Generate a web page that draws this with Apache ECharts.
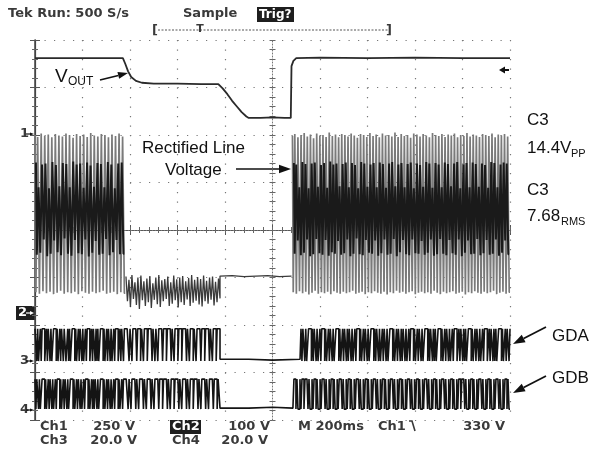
<!DOCTYPE html>
<html>
<head>
<meta charset="utf-8">
<script src="https://cdn.jsdelivr.net/npm/echarts@6/dist/echarts.min.js"></script>
<style>
  html, body { margin: 0; background: #fff; }
  #chart { width: 592px; height: 450px; }
</style>
</head>
<body>
<div id="chart"></div>
<script>
// time in ms across 10 divisions (200 ms/div), vertical in divisions (-4..4)

// V_OUT trace
const voutTime = [0, 370, 380, 392, 405, 425, 450, 500, 600, 700, 772, 790, 810, 830, 850, 870, 890, 900, 950, 1000, 1050, 1077, 1080, 1088, 1100, 1200, 1400, 1600, 1800, 2000];
const voutDiv  = [3.62, 3.62, 3.5, 3.34, 3.22, 3.14, 3.1, 3.08, 3.08, 3.07, 3.07, 2.98, 2.86, 2.72, 2.6, 2.48, 2.39, 2.36, 2.36, 2.37, 2.36, 2.36, 3.45, 3.56, 3.62, 3.63, 3.62, 3.63, 3.62, 3.62];

// rectified line voltage, peaks of each stroke
const rectLeftTops = [2.0, 1.96, 2.03, 1.98, 2.01, 1.95, 2.02, 1.99, 1.97, 2.03, 2.0, 1.94, 2.02, 1.98, 2.01, 1.96, 2.04, 1.99, 1.97, 2.02, 2.0, 1.95, 2.01, 1.98, 2.03, 1.97];
const rectLeftBots = [-1.31, -1.34, -1.29, -1.33, -1.3, -1.35, -1.32, -1.28, -1.34, -1.31, -1.33, -1.3, -1.35, -1.29, -1.32, -1.34, -1.3, -1.33, -1.31, -1.28, -1.34, -1.32, -1.3, -1.35, -1.31, -1.33];
const rectLeftDarkTops = [1.42, 0.9, 1.38, 1.4, 0.88, 1.43, 1.37, 0.92, 1.41, 1.39, 0.9, 1.44, 1.38, 1.4, 0.89, 1.42, 1.36, 0.91, 1.41, 1.39, 0.9, 1.43, 1.38, 0.88, 1.4, 1.42];
const rectLeftDarkBots = [-0.52, -0.48, -0.2, -0.55, -0.5, -0.22, -0.47, -0.53, -0.18, -0.5, -0.54, -0.21, -0.49, -0.51, -0.2, -0.56, -0.48, -0.23, -0.52, -0.5, -0.19, -0.53, -0.47, -0.21, -0.51, -0.5];
const rectMidTops = [-0.98, -1.05, -0.95, -1.1, -1.0, -0.96, -1.08, -1.02, -0.97, -1.12, -1.0, -0.95, -1.06, -1.03, -0.98, -1.1, -0.96, -1.04, -1.0, -0.97, -1.08, -1.01, -0.95, -1.05, -0.99, -1.03, -0.96, -1.07, -1.0, -0.98, -1.09, -1.02];
const rectMidBots = [-1.5, -1.62, -1.45, -1.58, -1.66, -1.48, -1.6, -1.52, -1.64, -1.47, -1.56, -1.62, -1.5, -1.45, -1.6, -1.55, -1.48, -1.63, -1.52, -1.58, -1.46, -1.6, -1.53, -1.49, -1.57, -1.61, -1.5, -1.55, -1.47, -1.59, -1.52, -1.44];
const rectFlatTime = [779, 830, 880, 930, 980, 1030, 1080];
const rectFlatDiv  = [-0.97, -0.96, -0.98, -0.97, -0.96, -0.98, -0.97];
const rectRightTops = [1.98, 2.02, 1.95, 2.0, 2.04, 1.97, 2.01, 1.93, 2.03, 1.99, 2.0, 1.96, 2.05, 1.98, 2.01, 1.95, 2.02, 2.0, 1.97, 2.03, 1.99, 1.94, 2.02, 2.0, 1.96, 2.04, 1.98, 2.01, 1.95, 2.03, 1.99, 2.0, 1.97, 2.05, 1.96, 2.02, 1.98, 2.0, 1.94, 2.03, 2.01, 1.97, 2.02, 1.99, 1.95, 2.04, 2.0, 1.98, 2.02, 1.96, 2.01, 1.99, 2.03, 1.95, 2.0, 1.98, 2.04, 1.97, 2.01, 1.99, 1.96, 2.02, 2.0, 1.98, 2.03, 1.95, 2.01, 1.99, 2.02, 1.97];
const rectRightBots = [-1.31, -1.34, -1.29, -1.33, -1.3, -1.36, -1.32, -1.28, -1.34, -1.31, -1.33, -1.3, -1.35, -1.29, -1.32, -1.34, -1.3, -1.33, -1.31, -1.28, -1.34, -1.32, -1.3, -1.35, -1.31, -1.33, -1.29, -1.32, -1.34, -1.3, -1.36, -1.31, -1.33, -1.28, -1.32, -1.3, -1.34, -1.31, -1.29, -1.35, -1.32, -1.3, -1.33, -1.31, -1.34, -1.28, -1.32, -1.35, -1.3, -1.33, -1.31, -1.29, -1.34, -1.32, -1.3, -1.36, -1.31, -1.33, -1.29, -1.32, -1.34, -1.3, -1.33, -1.31, -1.28, -1.35, -1.32, -1.3, -1.34, -1.31];
const rectRightDarkTops = [1.41, 1.38, 0.9, 1.43, 1.39, 0.88, 1.4, 1.42, 0.91, 1.37, 1.41, 0.89, 1.44, 1.38, 1.4, 0.92, 1.39, 1.42, 0.9, 1.41, 1.37, 0.88, 1.43, 1.4, 0.91, 1.38, 1.41, 0.9, 1.42, 1.39, 0.89, 1.4, 1.43, 0.92, 1.38, 1.41, 0.9, 1.39, 1.42, 0.88, 1.4, 1.37, 0.91, 1.43, 1.4, 0.89, 1.41, 1.38, 0.9, 1.42, 1.39, 0.92, 1.4, 1.43, 0.88, 1.38, 1.41, 0.9, 1.42, 1.39, 0.91, 1.4, 1.37, 0.89, 1.43, 1.41, 0.9, 1.38, 1.42, 1.4];
const rectRightDarkBots = [-0.5, -0.22, -0.53, -0.48, -0.2, -0.55, -0.51, -0.19, -0.49, -0.52, -0.21, -0.54, -0.47, -0.5, -0.23, -0.52, -0.49, -0.2, -0.55, -0.5, -0.18, -0.51, -0.53, -0.21, -0.48, -0.5, -0.22, -0.54, -0.49, -0.2, -0.52, -0.5, -0.19, -0.55, -0.47, -0.21, -0.51, -0.53, -0.2, -0.49, -0.5, -0.23, -0.52, -0.48, -0.2, -0.54, -0.51, -0.19, -0.5, -0.53, -0.21, -0.49, -0.52, -0.2, -0.55, -0.48, -0.22, -0.51, -0.5, -0.19, -0.53, -0.49, -0.21, -0.52, -0.5, -0.2, -0.54, -0.48, -0.22, -0.51];

// gate drive logic states (1 = high)
const gdaLeft  = '110100101110010110100111010010110110010100111010010110100101110010110101001110100101101001011100101101';
const gdaMid   = '111101101111011101101110111101101101111011101111011011101110111101101110110111101110111101101110111';
const gdaRight = '010110100111010110100101110100101101001110100101101011010010111010010110100111010110100101101001110100101101011010010111010010110100111010110101001110100101101001011100101101010011101001011010010111001011010100111010010110';
const gdbLeft  = '101101001110100101101001011101001011010011101001011010010111010010101101001110100101101001011101001011';
const gdbMid   = '111011011110110111101101111011011110111011110110111011110110111101101110111101101111011011110111011';
const gdbRight = '011010010110111010010110100101110100101101001011101001011010010111010010110100101110100101101001011101001011010010111010010110100101110100101101001011101001011010010110111010010110100101110100101101001011101001011010';
const gdaLevels = { hi: -2.08, lo: -2.76, idle: -2.72 };
const gdbLevels = { hi: -3.14, lo: -3.77, idle: -3.75 };

function strokes(tops, bots, t0, t1) {
  const n = Math.min(tops.length, bots.length);
  const dt = (t1 - t0) / (2 * n - 1);
  const out = [];
  for (let i = 0; i < n; i++) {
    out.push([t0 + 2 * i * dt, tops[i]]);
    out.push([t0 + (2 * i + 1) * dt, bots[i]]);
  }
  return out;
}
function logic(bits, t0, t1, lv) {
  const dt = (t1 - t0) / bits.length;
  return bits.split('').map((b, i) => [t0 + i * dt, b === '1' ? lv.hi : lv.lo]);
}

const voutData = voutTime.map((t, i) => [t, voutDiv[i]]);
const rectMidData = [].concat(
  strokes(rectMidTops, rectMidBots, 383, 779),
  rectFlatTime.map((t, i) => [t, rectFlatDiv[i]])
);
const gdaData = [].concat(
  logic(gdaLeft, 0, 380, gdaLevels), logic(gdaMid, 380, 779, gdaLevels),
  [[779, gdaLevels.idle], [900, gdaLevels.idle - 0.02], [1000, gdaLevels.idle], [1116, gdaLevels.idle]],
  logic(gdaRight, 1116, 2000, gdaLevels), [[2000, gdaLevels.hi]]
);
const gdbData = [].concat(
  logic(gdbLeft, 0, 380, gdbLevels), logic(gdbMid, 380, 779, gdbLevels),
  [[779, gdbLevels.idle], [900, gdbLevels.idle + 0.02], [1000, gdbLevels.idle], [1086, gdbLevels.idle]],
  logic(gdbRight, 1086, 2000, gdbLevels), [[2000, gdbLevels.lo]]
);

const chart = echarts.init(document.getElementById('chart'), null, { renderer: 'canvas' });

const frameTick = { show: true, inside: true, length: 5, lineStyle: { color: '#555', width: 1 } };
const frameMinor = { show: true, splitNumber: 5, length: 3, lineStyle: { color: '#666', width: 1 } };
const gridDots = { show: true, lineStyle: { color: '#777', width: 1.2, type: [1.2, 8.3] } };
const base = { axisLabel: { show: false }, splitLine: { show: false } };

function xAx(extra) { return Object.assign({ type: 'value', min: 0, max: 2000, interval: 200, gridIndex: 0 }, base, extra); }
function yAx(extra) { return Object.assign({ type: 'value', min: -4, max: 4, interval: 1, gridIndex: 0 }, base, extra); }

const font = 'bold 13px "DejaVu Sans"';
const scopeInk = '#3a3a3a';
const annFont = '17px "Liberation Sans"';
const subFont = '11px "Liberation Sans"';
const g = [];
function txt(x, y, text, f, fill, align) {
  g.push({ type: 'text', x: x, y: y, silent: true, style: { text: text, font: f || font, fill: fill || scopeInk, textAlign: align || 'left', textVerticalAlign: 'middle', align: align || 'left', verticalAlign: 'middle' } });
}
function arrow(x1, y1, x2, y2, w, head, spread) {
  const a = Math.atan2(y2 - y1, x2 - x1), L = head || 10, W = L * (spread || 0.35);
  const bx = x2 - L * Math.cos(a), by = y2 - L * Math.sin(a);
  g.push({ type: 'line', silent: true, shape: { x1: x1, y1: y1, x2: bx, y2: by }, style: { stroke: '#111', lineWidth: w || 1.5 } });
  g.push({ type: 'polygon', silent: true, shape: { points: [[x2, y2], [bx - W * Math.sin(a), by + W * Math.cos(a)], [bx + W * Math.sin(a), by - W * Math.cos(a)]] }, style: { fill: '#111' } });
}
function box(x, y, w, h) {
  g.push({ type: 'rect', silent: true, shape: { x: x, y: y, width: w, height: h }, style: { fill: '#1e1e1e' } });
}

// header
txt(8, 14, 'Tek Run: 500 S/s');
txt(183, 14, 'Sample');
box(257, 7, 37, 15);
txt(259, 14.5, 'Trig?', 'bold 12px "DejaVu Sans"', '#fff');
txt(152, 31, '[', 'bold 13px "DejaVu Sans"');
txt(392, 31, ']', 'bold 13px "DejaVu Sans"', scopeInk, 'right');
g.push({ type: 'line', silent: true, shape: { x1: 158, y1: 30, x2: 389, y2: 30 }, style: { stroke: '#555', lineWidth: 1, lineDash: [2, 1.5] } });
txt(200, 29, 'T', 'bold 11px "DejaVu Sans"', scopeInk, 'center');

// channel markers
txt(20, 134, '1', font);
arrow(26, 134, 34, 134, 1.2, 4);
box(16, 306, 19, 14);
txt(18, 313, '2', font, '#fff');
g.push({ type: 'line', silent: true, shape: { x1: 26, y1: 313, x2: 30, y2: 313 }, style: { stroke: '#fff', lineWidth: 1.2 } });
g.push({ type: 'polygon', silent: true, shape: { points: [[34, 313], [30, 311], [30, 315]] }, style: { fill: '#fff' } });
txt(20, 361, '3', font);
arrow(26, 361, 34, 361, 1.2, 4);
txt(20, 410, '4', font);
arrow(26, 410, 34, 410, 1.2, 4);
arrow(509, 70, 499, 70, 2, 6, 0.6);

// right-hand readouts
txt(527, 120, 'C3', annFont, '#111');
txt(527, 148, '14.4V', annFont, '#111');
txt(571, 154, 'PP', subFont, '#111');
txt(527, 190, 'C3', annFont, '#111');
txt(527, 216, '7.68', annFont, '#111');
txt(561, 222, 'RMS', subFont, '#111');
txt(552, 336, 'GDA', annFont, '#111');
txt(552, 378, 'GDB', annFont, '#111');
arrow(546, 327, 513, 344, 1.8, 12);
arrow(546, 376, 513, 393, 1.8, 12);

// annotations
txt(55, 77, 'V', '19px "Liberation Sans"', '#111');
txt(68, 82, 'OUT', '12px "Liberation Sans"', '#111');
arrow(100, 80, 128, 73, 1.5, 10);
txt(142, 148, 'Rectified Line', annFont, '#111');
txt(165, 170, 'Voltage', annFont, '#111');
arrow(236, 169, 291, 169, 1.5, 12);

// footer
txt(40, 427, 'Ch1');
txt(135, 427, '250 V', font, scopeInk, 'right');
box(170, 420, 31, 14);
txt(172, 427, 'Ch2', font, '#fff');
txt(270, 427, '100 V', font, scopeInk, 'right');
txt(298, 427, 'M 200ms');
txt(378, 427, 'Ch1');
g.push({ type: 'polyline', silent: true, shape: { points: [[409, 421], [412, 421], [415, 431]] }, style: { stroke: scopeInk, lineWidth: 1.6, fill: null } });
txt(505, 427, '330 V', font, scopeInk, 'right');
txt(40, 441, 'Ch3');
txt(137, 441, '20.0 V', font, scopeInk, 'right');
txt(172, 441, 'Ch4');
txt(268, 441, '20.0 V', font, scopeInk, 'right');

function trace(data, color, width, step) {
  return { type: 'line', data: data, showSymbol: false, symbol: 'none', silent: true, step: step || false,
    lineStyle: { color: color, width: width }, xAxisIndex: 0, yAxisIndex: 0 };
}

chart.setOption({
  animation: false,
  backgroundColor: '#fff',
  grid: { left: 35, right: 82, top: 40, bottom: 30 },
  xAxis: [
    xAx({ position: 'bottom', axisLine: { show: true, lineStyle: { color: '#444', width: 1.2 } }, axisTick: frameTick, minorTick: frameMinor, splitLine: gridDots }),
    xAx({ position: 'top', axisLine: { show: true, lineStyle: { color: '#444', width: 1.2 } }, axisTick: frameTick, minorTick: frameMinor }),
    xAx({ position: 'bottom', offset: -190, axisLine: { show: true, lineStyle: { color: '#777', width: 1, type: [1, 2] } }, axisTick: { show: true, inside: true, length: 3, lineStyle: { color: '#666' } }, minorTick: { show: true, splitNumber: 5, length: 3, lineStyle: { color: '#666' } } }),
    xAx({ position: 'bottom', offset: -190, axisLine: { show: false }, axisTick: { show: true, inside: false, length: 3, lineStyle: { color: '#666' } }, minorTick: { show: true, splitNumber: 5, length: 3, lineStyle: { color: '#666' } } })
  ],
  yAxis: [
    yAx({ position: 'left', axisLine: { show: true, lineStyle: { color: '#444', width: 1.2 } }, axisTick: frameTick, minorTick: frameMinor, splitLine: gridDots }),
    yAx({ position: 'right', axisLine: { show: true, lineStyle: { color: '#444', width: 1.5 } }, axisTick: frameTick, minorTick: frameMinor }),
    yAx({ position: 'left', offset: -237.5, axisLine: { show: true, lineStyle: { color: '#777', width: 1, type: [1, 2] } }, axisTick: { show: true, inside: true, length: 3, lineStyle: { color: '#666' } }, minorTick: { show: true, splitNumber: 5, length: 3, lineStyle: { color: '#666' } } }),
    yAx({ position: 'left', offset: -237.5, axisLine: { show: false }, axisTick: { show: true, inside: false, length: 3, lineStyle: { color: '#666' } }, minorTick: { show: true, splitNumber: 5, length: 3, lineStyle: { color: '#666' } } })
  ],
  series: [
    trace(voutData, '#2a2a2a', 1.8),
    trace(strokes(rectLeftTops, rectLeftBots, 0, 380), '#7a7a7a', 1.7, 'middle'),
    trace(strokes(rectRightTops, rectRightBots, 1084, 2000), '#7a7a7a', 1.7, 'middle'),
    trace(strokes(rectLeftDarkTops, rectLeftDarkBots, 4, 376), '#1a1a1a', 2, 'middle'),
    trace(strokes(rectRightDarkTops, rectRightDarkBots, 1090, 1996), '#1a1a1a', 2, 'middle'),
    trace(rectMidData, '#3a3a3a', 1.3),
    trace(gdaData, '#141414', 1.6, 'end'),
    trace(gdbData, '#141414', 1.6, 'end')
  ],
  graphic: { elements: g }
});
window.addEventListener('resize', () => chart.resize());
</script>
</body>
</html>
